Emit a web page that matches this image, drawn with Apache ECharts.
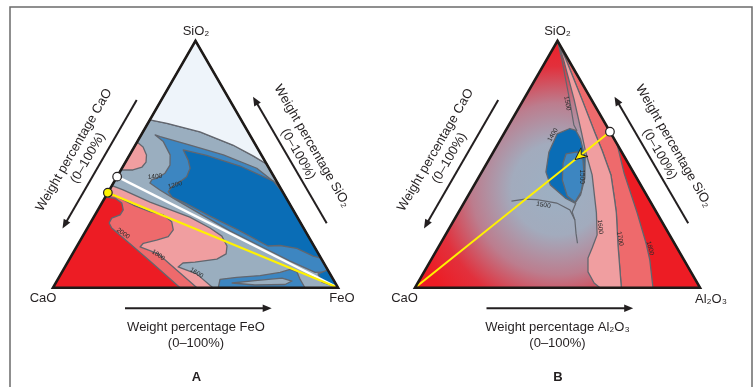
<!DOCTYPE html>
<html>
<head>
<meta charset="utf-8">
<script src="https://cdn.jsdelivr.net/npm/echarts@6/dist/echarts.min.js"></script>
<style>
  html, body { margin: 0; padding: 0; background: #fff; }
  #main { width: 756px; height: 387px; }
</style>
</head>
<body>
<div id="main"></div>
<script>
// every point is [FeO % (A) or Al2O3 % (B), SiO2 %]; CaO is what is left
const triangle = [[0, 0], [100, 0], [0, 100]];

// --- A: CaO-FeO-SiO2 ---
const salmonA = [[0, 36.7], [3.6, 36.3], [7, 34.3], [8.9, 31.5], [8.8, 29.5], [6.5, 28.2], [6.6, 26.2], [8.5, 24.2], [28.6, 10.8], [44.6, 0], [100, 0], [0, 100]];
const pinkA = [[0, 38.4], [2.4, 37.6], [11.4, 33.5], [18.6, 30.8], [24, 29.5], [28.3, 26.7], [30.5, 23.4], [30.1, 20.7], [26.7, 19.3], [22.7, 18], [22.3, 16.5], [30.1, 13.7], [50.5, 0], [100, 0], [0, 100]];
const grayA = [[0, 41.4], [4.8, 39.6], [16.7, 34.7], [33.7, 28.6], [43, 24.2], [48.8, 20.9], [52.6, 16.9], [53.9, 13.7], [51.7, 11.6], [44.6, 10.4], [40.6, 10], [39.7, 8.4], [47.6, 5.6], [56.1, 0], [100, 0], [49.9, 50.1], [43.5, 53.4], [34.2, 57.8], [20, 63.1], [6.7, 66.6], [0, 68]];
const paleA = [[0, 68], [6.7, 66.6], [20, 63.1], [34.2, 57.8], [43.5, 53.4], [49.9, 50.1], [0, 100]];
const pinkBlobA = [[0, 59], [3.1, 57], [5.9, 53.8], [7.2, 50.9], [6.8, 48.9], [4.2, 47.7], [0, 47.7]];
const mediumA = [[4.9, 61.9], [7, 61.2], [19.2, 57.8], [32.9, 53.8], [47.3, 48.4], [58.8, 41.2], [93.6, 6.4], [88.9, 6.2], [77.8, 10.8], [64.2, 16.9], [50.6, 23], [36.7, 29.9], [24.8, 35.9], [17.7, 39.6], [12.8, 42.4], [12.8, 43.8], [14.3, 44.4], [16.1, 46.4], [16.2, 49.7], [14.2, 53.8], [9.1, 59.2]];
const darkA = [[17.8, 55.8], [27.1, 53.6], [41, 49.3], [55.7, 43.2], [62, 38], [88, 12], [84.9, 12.8], [77.6, 15.9], [71.1, 17.1], [67, 16.9], [54.1, 23], [40.6, 29], [29.2, 34.3], [23.4, 36.7], [21, 38.9], [21.2, 40.9], [23.1, 42.9], [24.4, 45], [23.9, 48.4], [21.6, 51.7]];
const darkTipA = [[92.8, 7.2], [90.2, 5.6], [93.2, 2.3], [100, 0]];
const waveBlueA = [[58, 0], [56.9, 3.4], [62.4, 4.2], [70.2, 4.9], [76.6, 6.2], [79.5, 7.4], [82.4, 6.4], [84.9, 3.5], [88.4, 0]];
const waveGrayA = [[61.9, 1.9], [69.4, 2.9], [78.4, 3.9], [82.5, 2.7], [80.8, 1.3], [70.3, 1.1]];
const whiteLineA = [[0, 45], [100, 0]];
const yellowLineA = [[0, 38.5], [100, 0]];
const tieArrowsA = [[[18.9, 30.3], [8.6, 40.4]], [[26.2, 27.4], [15.9, 37.6]]];
const isoLabelsA = [['1400', [13.3, 45]], ['1200', [22, 41.6]], ['2000', [13.6, 22]], ['1800', [30.3, 13.2]], ['1600', [47.4, 6]]];

// --- B: CaO-Al2O3-SiO2 ---
const salmonB = [[0, 100], [6.9, 92.3], [20.6, 76.1], [31.8, 62.7], [37.7, 55.8], [45.9, 45.7], [52.3, 35.5], [55.5, 30.3], [62.8, 16.9], [72.4, 0], [100, 0]];
const redB = [[41.8, 58.2], [50.1, 46.5], [62.8, 30.3], [72, 18.1], [76.8, 11.2], [83.5, 0], [100, 0]];
const pinkB = [[0, 100], [6, 92.3], [17.8, 76.1], [27.1, 62.7], [31.8, 55.8], [39.3, 45.7], [45.4, 35.5], [48.5, 30.3], [53.2, 21.4], [54.1, 16.1], [54.7, 12], [57.5, 6.4], [61.9, 1.9], [64.9, 0], [72.4, 0], [62.8, 16.9], [55.5, 30.3], [52.3, 35.5], [45.9, 45.7], [37.7, 55.8], [31.8, 62.7], [20.6, 76.1], [6.9, 92.3]];
const blobB = [[22.1, 64.5], [18.7, 62.3], [19.5, 55], [22.5, 46.9], [26.7, 41.6], [34.6, 36.3], [39, 34.3], [39.3, 37.6], [37.4, 44.4], [33.4, 52.6], [27.9, 60.3], [24.6, 63.7]];
const coreB = [[25.9, 54.2], [29.4, 55], [33.1, 51.7], [36.5, 45.7], [38.9, 38.8], [38.8, 34.7], [34.8, 37.2], [29.9, 43.6], [26.7, 50.5]];
const iso1500TopB = [[0, 100], [5.4, 92.3], [16.2, 76.1], [22.8, 65.9], [25.1, 63.5]];
const iso1500LowB = [[16.3, 35.1], [20.6, 35.9], [24.9, 35.7], [32.6, 34.3], [38.6, 31.5], [42.4, 27.4], [45.5, 22], [48, 18]];
const iso1500StemB = [[39.3, 34.3], [39.8, 30.7], [42.4, 27.4]];
const yellowLineB = [[0, 0], [36.8, 63.2]];
const arrowTipB = [30.2, 51.9];
const isoLabelsB = [['1500', [16.1, 74.7]], ['1400', [17.4, 61.9]], ['1500', [35.9, 45]], ['1500', [28.3, 33.5]], ['1600', [52.6, 24.7]], ['1700', [62, 19.9]], ['1800', [74.5, 16]]];

const angleA = [5, 15, -35, -35, -30];
const angleB = [-79, 60, -90, -10, -85, -80, -75];

const FONT = "'Liberation Sans', Arial, Helvetica, sans-serif";
const INK = '#231F20';
const C = {
  red: '#ED1C24', salmon: '#EE6A6C', pink: '#F09EA0', gray: '#9AAEBF',
  mid: '#3D86C1', dark: '#0A6DB6', pale: '#EEF4FA', iso: '#62666E'
};
const SQ3 = Math.sqrt(3) / 2;
const toXY = (p) => [p[0] + p[1] / 2, p[1] * SQ3];

function arrowParts(a, b, lw, hl, hw, color) {
  const dx = b[0] - a[0], dy = b[1] - a[1], L = Math.hypot(dx, dy);
  const ux = dx / L, uy = dy / L;
  const base = [b[0] - ux * hl, b[1] - uy * hl];
  return [
    {type: 'line', shape: {x1: a[0], y1: a[1], x2: base[0] + ux, y2: base[1] + uy}, style: {stroke: color, lineWidth: lw}},
    {type: 'polygon', shape: {points: [b, [base[0] - uy * hw, base[1] + ux * hw], [base[0] + uy * hw, base[1] - ux * hw]]}, style: {fill: color}}
  ];
}

function drawItem(it, api, idx) {
  const px = (p) => api.coord(toXY(p));
  if (it.kind === 'poly') {
    return {type: 'polygon', z2: idx, shape: {points: it.pts.map(px)},
      style: {fill: it.fill || null, stroke: it.stroke || null, lineWidth: it.lw || 1.3, lineJoin: it.join || 'round'}};
  }
  if (it.kind === 'line') {
    return {type: 'polyline', z2: idx, shape: {points: it.pts.map(px)},
      style: {fill: null, stroke: it.stroke, lineWidth: it.lw}};
  }
  if (it.kind === 'dot') {
    const c = px(it.at);
    return {type: 'circle', z2: idx, shape: {cx: c[0], cy: c[1], r: 4.3},
      style: {fill: it.fill, stroke: INK, lineWidth: 1.2}};
  }
  if (it.kind === 'arrow') {
    return {type: 'group', z2: idx, children: arrowParts(px(it.pts[0]), px(it.pts[1]), 1.1, 7, 2.8, INK)};
  }
  if (it.kind === 'dart') {
    // yellow arrow head that points along the tie line towards CaO
    const tip = px(it.at), from = px(it.from);
    const dx = from[0] - tip[0], dy = from[1] - tip[1], L = Math.hypot(dx, dy);
    const ux = dx / L, uy = dy / L;
    const pts = [tip,
      [tip[0] + ux * 12 - uy * 5.5, tip[1] + uy * 12 + ux * 5.5],
      [tip[0] + ux * 8, tip[1] + uy * 8],
      [tip[0] + ux * 12 + uy * 5.5, tip[1] + uy * 12 - ux * 5.5]];
    return {type: 'polygon', z2: idx, shape: {points: pts}, style: {fill: '#FFF200', stroke: INK, lineWidth: 1}};
  }
  if (it.kind === 'label') {
    const c = px(it.at);
    return {type: 'text', z2: idx, x: c[0], y: c[1], rotation: it.rot * Math.PI / 180,
      style: {text: it.text, fontSize: 6.5, fontFamily: FONT, fill: '#2a2a2a',
        align: 'center', verticalAlign: 'middle', textAlign: 'center', textVerticalAlign: 'middle'}};
  }
}

const poly = (pts, fill, stroke) => ({kind: 'poly', pts, fill, stroke: stroke ? C.iso : null});
const outline = {kind: 'poly', pts: triangle, fill: null, stroke: '#1E1A18', lw: 2.6, join: 'miter'};

const itemsA = [
  poly(triangle, C.red),
  poly(salmonA, C.salmon, true),
  poly(pinkA, C.pink, true),
  poly(grayA, C.gray, true),
  poly(paleA, C.pale, true),
  poly(pinkBlobA, C.pink, true),
  poly(mediumA, C.mid, true),
  poly(darkA, C.dark, true),
  poly(darkTipA, C.dark, true),
  poly(waveBlueA, C.mid, true),
  poly(waveGrayA, C.gray, true),
  {kind: 'line', pts: whiteLineA, stroke: '#FFFFFF', lw: 2.4},
  {kind: 'line', pts: yellowLineA, stroke: '#FFF200', lw: 2.2},
  ...tieArrowsA.map((pts) => ({kind: 'arrow', pts})),
  ...isoLabelsA.map((l, i) => ({kind: 'label', text: l[0], at: l[1], rot: angleA[i]})),
  outline,
  {kind: 'dot', at: whiteLineA[0], fill: '#FFFFFF'},
  {kind: 'dot', at: yellowLineA[0], fill: '#FFF200'}
];

const itemsB = [
  poly(triangle, {
    type: 'radial', x: 0.5, y: 0.6, r: 0.62,
    colorStops: [
      {offset: 0, color: '#9CB0C3'}, {offset: 0.3, color: '#A2ABBD'},
      {offset: 0.56, color: '#BC7D8E'}, {offset: 0.8, color: '#E2303C'}, {offset: 1, color: '#ED1C24'}
    ]
  }),
  poly(salmonB, C.salmon, true),
  poly(redB, C.red, true),
  poly(pinkB, C.pink, true),
  poly(blobB, C.dark, true),
  poly(coreB, C.mid, true),
  {kind: 'line', pts: iso1500TopB, stroke: C.iso, lw: 1.2},
  {kind: 'line', pts: iso1500LowB, stroke: C.iso, lw: 1.2},
  {kind: 'line', pts: iso1500StemB, stroke: C.iso, lw: 1.2},
  {kind: 'line', pts: yellowLineB, stroke: '#FFF200', lw: 2},
  {kind: 'dart', at: arrowTipB, from: yellowLineB[1]},
  ...isoLabelsB.map((l, i) => ({kind: 'label', text: l[0], at: l[1], rot: angleB[i]})),
  outline,
  {kind: 'dot', at: yellowLineB[1], fill: '#FFFFFF'}
];

function panelSeries(idx, items) {
  return {
    type: 'custom', coordinateSystem: 'cartesian2d',
    xAxisIndex: idx, yAxisIndex: idx, clip: false, silent: true,
    data: items.map((d, i) => [i, 0]),
    renderItem: (params, api) => drawItem(items[params.dataIndex], api, params.dataIndex)
  };
}

function text(x, y, str, extra) {
  const o = Object.assign({size: 13, rot: 0, weight: 'normal'}, extra || {});
  return {type: 'text', x, y, rotation: o.rot * Math.PI / 180, z: 100,
    style: {text: str, fontSize: o.size, fontFamily: FONT, fontWeight: o.weight, fill: INK, lineHeight: 16,
      align: 'center', verticalAlign: 'middle', textAlign: 'center', textVerticalAlign: 'middle'}};
}
const arrow = (x1, y1, x2, y2) => ({type: 'group', z: 100, children: arrowParts([x1, y1], [x2, y2], 2, 9, 3.8, INK)});

function panelNotes(dx, base, side, bottom, tag) {
  return [
    text(196 + dx, 31, 'SiO₂'),
    text(43 + dx, 298, 'CaO'),
    text(side[0] + dx, side[1], base),
    text(196 + dx, 327, bottom),
    text(196 + dx, 343.5, '(0–100%)'),
    text(196.5 + dx, 377, tag, {weight: 'bold'}),
    text(81 + dx, 154, 'Weight percentage CaO\n(0–100%)', {rot: 60}),
    text(305 + dx, 150, 'Weight percentage SiO₂\n(0–100%)', {rot: -60}),
    arrow(125 + dx, 308.3, 271.7 + dx, 308.3),
    arrow(136.7 + dx, 100, 62.5 + dx, 228.5),
    arrow(326.7 + dx, 223.3, 253 + dx, 96.7)
  ];
}

const chart = echarts.init(document.getElementById('main'));
chart.setOption({
  animation: false,
  backgroundColor: '#fff',
  grid: [
    {left: 53, top: 40.9, width: 285, height: 246.8},
    {left: 415, top: 40.9, width: 285, height: 246.8}
  ],
  xAxis: [0, 1].map((i) => ({type: 'value', gridIndex: i, min: 0, max: 100, show: false})),
  yAxis: [0, 1].map((i) => ({type: 'value', gridIndex: i, min: 0, max: 100 * SQ3, show: false})),
  series: [panelSeries(0, itemsA), panelSeries(1, itemsB)],
  graphic: [
    {type: 'rect', shape: {x: 10, y: 7, width: 742, height: 400}, style: {fill: null, stroke: '#6B6B6B', lineWidth: 1.5}, z: 0},
    ...panelNotes(0, 'FeO', [342, 298], 'Weight percentage FeO', 'A'),
    ...panelNotes(361.5, 'Al₂O₃', [349.5, 299], 'Weight percentage Al₂O₃', 'B')
  ]
});
</script>
</body>
</html>
